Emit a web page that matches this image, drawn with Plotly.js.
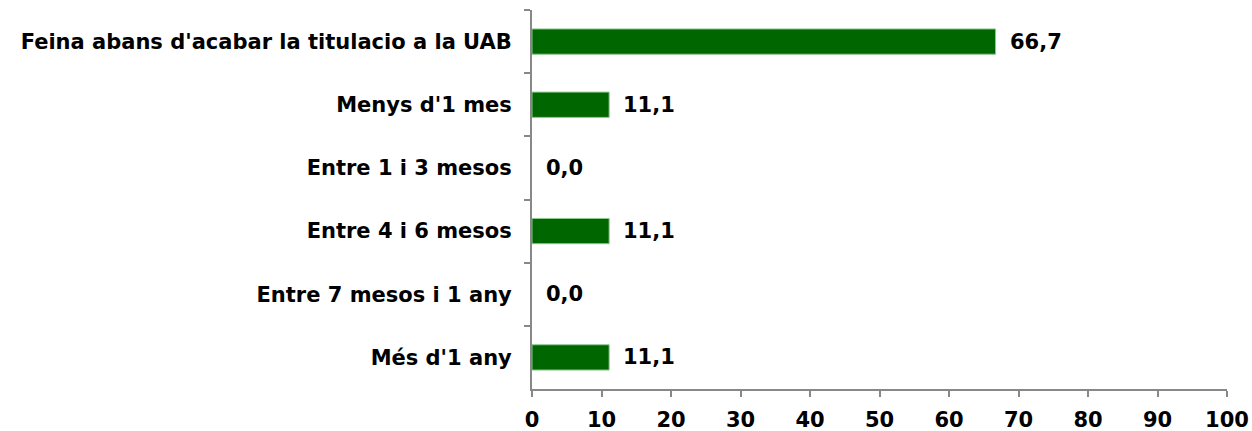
<!DOCTYPE html>
<html>
<head>
<meta charset="utf-8">
<script src="https://cdn.plot.ly/plotly-3.0.1.min.js"></script>
<style>html,body{margin:0;padding:0;background:#fff;}#chart{width:1252px;height:431px;}</style>
</head>
<body>
<div id="chart"></div>
<script>
const categories = ["Feina abans d'acabar la titulacio a la UAB", "Menys d'1 mes", "Entre 1 i 3 mesos", "Entre 4 i 6 mesos", "Entre 7 mesos i 1 any", "Més d'1 any"];
const values = [66.7, 11.1, 0.0, 11.1, 0.0, 11.1];
const labels = values.map(v => v.toFixed(1).replace('.', ','));

const FS = 21;
const font = {family: 'DejaVu Sans, Verdana, sans-serif', size: FS, color: '#000'};
const boldFont = {family: font.family, size: FS, color: '#000', weight: 'bold'};

const annotations = values.map((v, i) => ({
  x: v, y: categories[i], xref: 'x', yref: 'y',
  text: '<b>' + labels[i] + '</b>', showarrow: false,
  xanchor: 'left', xshift: 12, font: font
}));

Plotly.newPlot('chart', [{
  type: 'bar', orientation: 'h',
  x: values, y: categories,
  width: 0.4,
  marker: {color: '#006600', line: {color: '#8fc98f', width: values.map(v => v > 0 ? 1 : 0)}},
  hoverinfo: 'none'
}], {
  width: 1252, height: 431,
  margin: {l: 532, r: 25, t: 10, b: 42},
  paper_bgcolor: '#fff', plot_bgcolor: '#fff',
  font: font,
  showlegend: false,
  xaxis: {
    range: [0, 100], dtick: 10, tick0: 0,
    showgrid: false, zeroline: false,
    showline: true, linecolor: '#888', linewidth: 2,
    ticks: 'outside', ticklen: 6, tickcolor: '#888', tickwidth: 2,
    ticklabelstandoff: 5,
    tickfont: boldFont,
    fixedrange: true
  },
  yaxis: {
    type: 'category', autorange: 'reversed',
    showgrid: false, zeroline: false,
    showline: true, linecolor: '#888', linewidth: 2,
    ticks: 'outside', ticklen: 6, tickcolor: '#888', tickwidth: 2,
    tickson: 'boundaries',
    ticklabelstandoff: 14,
    tickfont: boldFont,
    fixedrange: true
  },
  annotations: annotations
}, {displayModeBar: false, staticPlot: true});
</script>
</body>
</html>
